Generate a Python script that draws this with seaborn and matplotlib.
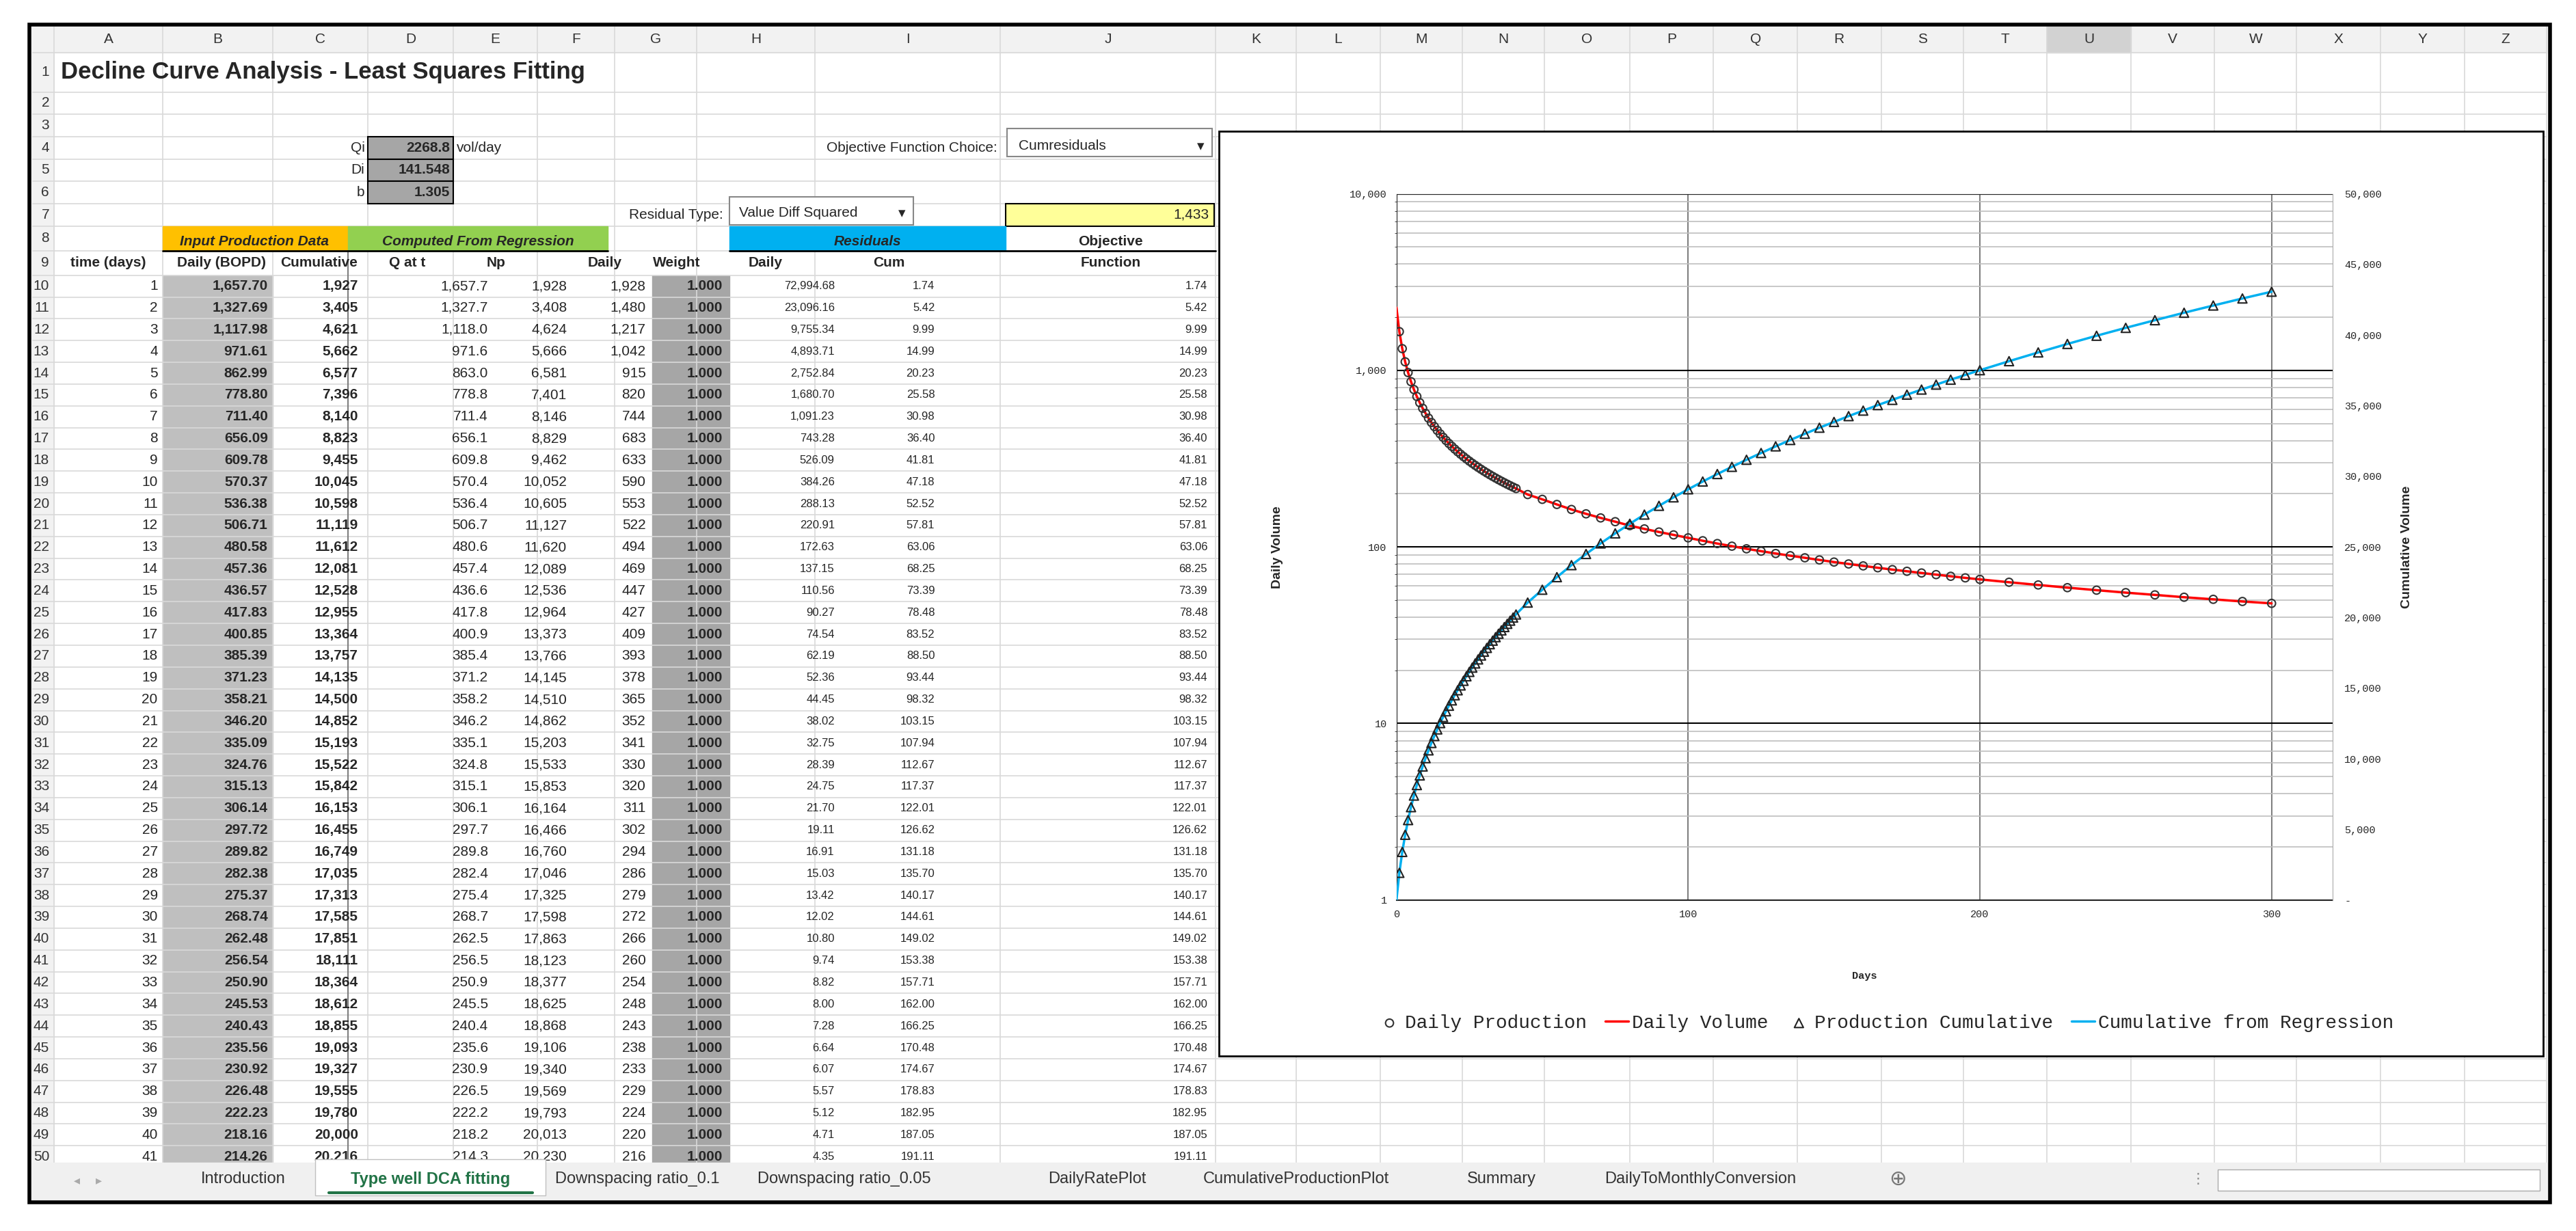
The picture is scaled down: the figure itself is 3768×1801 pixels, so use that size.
import numpy as np
import pandas as pd
import matplotlib
matplotlib.use("Agg")
import matplotlib.pyplot as plt
from matplotlib.patches import Rectangle
import seaborn as sns

sns.set_style("white")
plt.rcParams['font.family'] = ['Liberation Sans Narrow', 'Liberation Sans', 'DejaVu Sans']

# ---- table data (rows 10..50) ----
t_days = list(range(1, 42))
daily_bopd = [1657.70, 1327.69, 1117.98, 971.61, 862.99, 778.80, 711.40, 656.09, 609.78, 570.37,
              536.38, 506.71, 480.58, 457.36, 436.57, 417.83, 400.85, 385.39, 371.23, 358.21,
              346.20, 335.09, 324.76, 315.13, 306.14, 297.72, 289.82, 282.38, 275.37, 268.74,
              262.48, 256.54, 250.90, 245.53, 240.43, 235.56, 230.92, 226.48, 222.23, 218.16, 214.26]
cumulative = [1927, 3405, 4621, 5662, 6577, 7396, 8140, 8823, 9455, 10045, 10598, 11119, 11612,
              12081, 12528, 12955, 13364, 13757, 14135, 14500, 14852, 15193, 15522, 15842, 16153,
              16455, 16749, 17035, 17313, 17585, 17851, 18111, 18364, 18612, 18855, 19093, 19327,
              19555, 19780, 20000, 20216]
q_at_t = [1657.7, 1327.7, 1118.0, 971.6, 863.0, 778.8, 711.4, 656.1, 609.8, 570.4, 536.4, 506.7,
          480.6, 457.4, 436.6, 417.8, 400.9, 385.4, 371.2, 358.2, 346.2, 335.1, 324.8, 315.1,
          306.1, 297.7, 289.8, 282.4, 275.4, 268.7, 262.5, 256.5, 250.9, 245.5, 240.4, 235.6,
          230.9, 226.5, 222.2, 218.2, 214.3]
np_fit = [1928, 3408, 4624, 5666, 6581, 7401, 8146, 8829, 9462, 10052, 10605, 11127, 11620, 12089,
          12536, 12964, 13373, 13766, 14145, 14510, 14862, 15203, 15533, 15853, 16164, 16466,
          16760, 17046, 17325, 17598, 17863, 18123, 18377, 18625, 18868, 19106, 19340, 19569,
          19793, 20013, 20230]
daily_fit = [1928, 1480, 1217, 1042, 915, 820, 744, 683, 633, 590, 553, 522, 494, 469, 447, 427,
             409, 393, 378, 365, 352, 341, 330, 320, 311, 302, 294, 286, 279, 272, 266, 260, 254,
             248, 243, 238, 233, 229, 224, 220, 216]
resid_daily = [72994.68, 23096.16, 9755.34, 4893.71, 2752.84, 1680.70, 1091.23, 743.28, 526.09,
               384.26, 288.13, 220.91, 172.63, 137.15, 110.56, 90.27, 74.54, 62.19, 52.36, 44.45,
               38.02, 32.75, 28.39, 24.75, 21.70, 19.11, 16.91, 15.03, 13.42, 12.02, 10.80, 9.74,
               8.82, 8.00, 7.28, 6.64, 6.07, 5.57, 5.12, 4.71, 4.35]
resid_cum = [1.74, 5.42, 9.99, 14.99, 20.23, 25.58, 30.98, 36.40, 41.81, 47.18, 52.52, 57.81,
             63.06, 68.25, 73.39, 78.48, 83.52, 88.50, 93.44, 98.32, 103.15, 107.94, 112.67,
             117.37, 122.01, 126.62, 131.18, 135.70, 140.17, 144.61, 149.02, 153.38, 157.71,
             162.00, 166.25, 170.48, 174.67, 178.83, 182.95, 187.05, 191.11]

# ---- chart data beyond the table ----
late_days = [45, 50, 55, 60, 65, 70, 75, 80, 85, 90, 95, 100, 105, 110, 115, 120, 125, 130, 135,
             140, 145, 150, 155, 160, 165, 170, 175, 180, 185, 190, 195, 200, 210, 220, 230, 240,
             250, 260, 270, 280, 290, 300]
late_daily = [198, 186, 174, 163, 154, 146, 139, 132, 126.5, 121.5, 117, 112.6, 108.4, 104.5, 101,
              97.6, 94.6, 91.8, 89.2, 86.8, 84.4, 82.1, 80.1, 78.1, 76.2, 74.4, 72.8, 71.2, 69.7,
              68.2, 66.8, 65.5, 63.1, 60.9, 58.8, 56.9, 55.1, 53.5, 51.9, 50.5, 49.1, 47.9]
late_cum = [21060, 21970, 22860, 23710, 24500, 25250, 25960, 26640, 27290, 27910, 28510, 29080,
            29630, 30160, 30670, 31170, 31650, 32120, 32570, 33010, 33440, 33850, 34260, 34650,
            35040, 35410, 35780, 36140, 36490, 36840, 37180, 37510, 38150, 38770, 39370, 39950,
            40510, 41050, 41580, 42090, 42590, 43070]

fig = plt.figure(figsize=(37.68, 18.01), dpi=100)
bg = fig.add_axes([0, 0, 1, 1])
bg.set_xlim(0, 1568)
bg.set_ylim(749.5, 0)
bg.axis('off')

col_letters = list("ABCDEFGHIJKLMNOPQRSTUVWXYZ")
col_edges = [33, 99, 166, 224, 276, 327, 374, 424, 496, 609, 740, 789, 840, 890, 940, 992, 1043,
             1094, 1145, 1195, 1246, 1297, 1348, 1398, 1449, 1500, 1550]

row_top = {1: 32, 2: 56}
for r in range(3, 9):
    row_top[r] = row_top[r - 1] + 13.6
row_top[9] = row_top[8] + 15
row_top[10] = row_top[9] + 15
for r in range(11, 52):
    row_top[r] = row_top[r - 1] + 13.25


def rc(r):
    return (row_top[r] + row_top[r + 1]) / 2


FS = 15
# gridlines
for x in col_edges:
    bg.plot([x, x], [15, 708], color='#d9d9d9', lw=1.2, zorder=1)
for r in range(1, 52):
    bg.plot([20, 1550], [row_top[r], row_top[r]], color='#d9d9d9', lw=1.2, zorder=1)
# headers
bg.add_patch(Rectangle((18, 15), 1534, 17, color='#f2f2f2', zorder=0.5))
bg.add_patch(Rectangle((18, 15), 15, 693, color='#f2f2f2', zorder=0.5))
for i, L in enumerate(col_letters):
    bg.text((col_edges[i] + col_edges[i + 1]) / 2, 24, L, ha='center', va='center', fontsize=FS, color='#333333')
bg.add_patch(Rectangle((col_edges[20], 15), col_edges[21] - col_edges[20], 17, color='#d2d2d2', zorder=0.6))
for r in range(1, 51):
    bg.text(30, rc(r), str(r), ha='right', va='center', fontsize=FS, color='#333333')

bg.text(37, rc(1), 'Decline Curve Analysis - Least Squares Fitting', fontsize=25, weight='bold', va='center')

# parameters
for r, lab, val in [(4, 'Qi', '2268.8'), (5, 'Di', '141.548'), (6, 'b', '1.305')]:
    bg.add_patch(Rectangle((224, row_top[r]), 52, row_top[r + 1] - row_top[r], fc='#a6a6a6', ec='black', lw=1.5, zorder=2))
    bg.text(222, rc(r), lab, ha='right', va='center', fontsize=FS)
    bg.text(274, rc(r), val, ha='right', va='center', fontsize=FS, weight='bold', zorder=3)
bg.text(278, rc(4), 'vol/day', va='center', fontsize=FS)
bg.text(607, rc(4), 'Objective Function Choice:', ha='right', va='center', fontsize=FS)
bg.add_patch(Rectangle((613, row_top[4] - 5), 125, 17, fc='white', ec='#888888', lw=1.5, zorder=2))
bg.text(620, rc(4) - 1, 'Cumresiduals', va='center', fontsize=FS, zorder=3)
bg.text(731, rc(4) - 1, '▾', va='center', ha='center', fontsize=FS, zorder=3, family='DejaVu Sans')
bg.text(440, rc(7), 'Residual Type:', ha='right', va='center', fontsize=FS)
bg.add_patch(Rectangle((444, row_top[7] - 4), 112, 17, fc='white', ec='#888888', lw=1.5, zorder=2))
bg.text(450, rc(7) - 1, 'Value Diff Squared', va='center', fontsize=FS, zorder=3)
bg.text(549, rc(7) - 1, '▾', va='center', ha='center', fontsize=FS, zorder=3, family='DejaVu Sans')
bg.add_patch(Rectangle((612, row_top[7]), 127, row_top[8] - row_top[7], fc='#ffff99', ec='black', lw=1.5, zorder=2))
bg.text(736, rc(7), '1,433', ha='right', va='center', fontsize=FS, zorder=3)

# section headers
h8 = row_top[9] - row_top[8]
bg.add_patch(Rectangle((99, row_top[8]), 113, h8, color='#ffc000', zorder=2))
bg.add_patch(Rectangle((212, row_top[8]), 158, h8, color='#92d050', zorder=2))
bg.add_patch(Rectangle((444, row_top[8]), 168, h8, color='#00b0f0', zorder=2))
bg.plot([99, 370], [row_top[9], row_top[9]], color='black', lw=2, zorder=3)
bg.plot([444, 740], [row_top[9], row_top[9]], color='black', lw=2, zorder=3)
bg.text(155, rc(8) + 2, 'Input Production Data', ha='center', va='center', fontsize=FS, weight='bold', style='italic', zorder=3)
bg.text(291, rc(8) + 2, 'Computed From Regression', ha='center', va='center', fontsize=FS, weight='bold', style='italic', zorder=3)
bg.text(528, rc(8) + 2, 'Residuals', ha='center', va='center', fontsize=FS, weight='bold', style='italic', zorder=3)
bg.text(676, rc(8) + 2, 'Objective', ha='center', va='center', fontsize=FS, weight='bold')
heads = [('time (days)', 66), ('Daily (BOPD)', 135), ('Cumulative', 194), ('Q at t', 248), ('Np', 302),
         ('Daily', 368), ('Weight', 412), ('Daily', 466), ('Cum', 541), ('Function', 676)]
for h, x in heads:
    bg.text(x, rc(9), h, ha='center', va='center', fontsize=FS, weight='bold')

# gray columns
bot = 708
bg.add_patch(Rectangle((99, row_top[10]), 67, bot - row_top[10], color='#bfbfbf', zorder=0.8))
bg.add_patch(Rectangle((397, row_top[10]), 47, bot - row_top[10], color='#a6a6a6', zorder=0.8))
bg.plot([212, 212], [row_top[9], bot], color='#7f7f7f', lw=1.5, zorder=2)

rights = [96, 163, 218, 297, 345, 393, 440, 508, 569, 735]
for i, t in enumerate(t_days):
    r = 10 + i
    y = rc(r)
    vals = [(str(t), {}), (f"{daily_bopd[i]:,.2f}", {'weight': 'bold'}), (f"{cumulative[i]:,}", {'weight': 'bold'}),
            (f"{q_at_t[i]:,.1f}", {}), (f"{np_fit[i]:,}", {}), (f"{daily_fit[i]:,}", {}),
            ('1.000', {'weight': 'bold'}), (f"{resid_daily[i]:,.2f}", {'fontsize': 12}),
            (f"{resid_cum[i]:.2f}", {'fontsize': 12}), (f"{resid_cum[i]:.2f}", {'fontsize': 12})]
    for (txt, kw), x in zip(vals, rights):
        kw = dict(kw)
        fs = kw.pop('fontsize', FS)
        bg.text(x, y, txt, ha='right', va='center', fontsize=fs, zorder=3, **kw)

# tab bar
bg.add_patch(Rectangle((18, 708), 1534, 24, color='#f0f0f0', zorder=4))
bg.text(45, 719, '◂    ▸', ha='left', va='center', fontsize=13, color='#aaaaaa', zorder=5, family='DejaVu Sans')
bg.add_patch(Rectangle((192, 706), 140, 22, fc='white', ec='#c0c0c0', zorder=4.5))
tabs = [('Introduction', 148), ('Type well DCA fitting', 262), ('Downspacing ratio_0.1', 388),
        ('Downspacing ratio_0.05', 514), ('DailyRatePlot', 668), ('CumulativeProductionPlot', 789),
        ('Summary', 914), ('DailyToMonthlyConversion', 1035)]
for name, x in tabs:
    act = name.startswith('Type')
    bg.text(x, 718, name, ha='center', va='center', fontsize=17, zorder=5,
            color='#217346' if act else '#333333', weight='bold' if act else 'normal')
    if act:
        bg.plot([x - 62, x + 62], [726, 726], color='#217346', lw=3, zorder=5)
bg.text(1155, 718, '⊕', ha='center', va='center', fontsize=22, color='#777777', zorder=5, family='DejaVu Sans')
bg.add_patch(Rectangle((1350, 712), 196, 13, fc='white', ec='#aaaaaa', zorder=5))
bg.text(1338, 718, '⋮', ha='center', va='center', fontsize=15, color='#888888', zorder=5, family='DejaVu Sans')

# outer frame
bg.add_patch(Rectangle((18, 15), 1534, 717, fill=False, ec='black', lw=4, zorder=6))

# chart box
bg.add_patch(Rectangle((742, 80), 806, 563, fc='white', ec='black', lw=2, zorder=7))

# ---- chart ----
days_all = t_days + late_days
prod = pd.DataFrame({'days': days_all, 'daily': daily_bopd + late_daily, 'cum': cumulative + late_cum})
fit = pd.DataFrame({'days': [0] + days_all, 'daily': [2268.8] + q_at_t + late_daily,
                    'cum': [0] + np_fit + late_cum})

ax = fig.add_axes([850 / 1568, 1 - 548 / 749.5, 570 / 1568, 430 / 749.5], zorder=10)
ax.set_yscale('log')
ax.set_ylim(1, 10000)
ax.set_xlim(0, 321)
sns.lineplot(data=fit, x='days', y='daily', color='red', lw=2.5, ax=ax, label='Daily Volume', zorder=3)
sns.scatterplot(data=prod, x='days', y='daily', marker='o', s=70, facecolor='none', edgecolor='#333333',
                linewidth=1.5, ax=ax, label='Daily Production', zorder=4)
ax.yaxis.set_major_locator(matplotlib.ticker.LogLocator(base=10))
ax.yaxis.set_minor_locator(matplotlib.ticker.LogLocator(base=10, subs=range(2, 10)))
ax.yaxis.set_major_formatter(matplotlib.ticker.FuncFormatter(lambda v, p: f"{v:,.0f}"))
ax.yaxis.set_minor_formatter(matplotlib.ticker.NullFormatter())
ax.set_xticks([0, 100, 200, 300])
ax.grid(True, which='major', axis='y', color='black', lw=1.5)
ax.grid(True, which='minor', axis='y', color='#bfbfbf', lw=1.2)
ax.grid(True, which='major', axis='x', color='#808080', lw=1.5)
mono = ['Liberation Mono', 'DejaVu Sans Mono']
ax.tick_params(labelsize=11, length=0, pad=10)
for lb in ax.get_xticklabels() + ax.get_yticklabels():
    lb.set_family(mono)
ax.set_xlabel('Days', fontsize=11, family=mono, weight='bold', labelpad=55)
ax.set_ylabel('Daily Volume', fontsize=14, weight='bold', family=['Liberation Sans'], labelpad=70)
for sp in ax.spines.values():
    sp.set_visible(False)
ax.spines['bottom'].set_visible(True)
ax.spines['top'].set_visible(True)
ax.spines['left'].set_visible(True)
ax.spines['bottom'].set_linewidth(1.5)

ax2 = ax.twinx()
ax2.set_ylim(0, 50000)
sns.lineplot(data=fit, x='days', y='cum', color='#00b0f0', lw=2.5, ax=ax2, label='Cumulative from Regression', zorder=3)
sns.scatterplot(data=prod, x='days', y='cum', marker='^', s=90, facecolor='none', edgecolor='#222222',
                linewidth=1.5, ax=ax2, label='Production Cumulative', zorder=4)
ax2.set_yticks(range(0, 50001, 5000))
ax2.set_yticklabels(['-'] + [f"{v:,}" for v in range(5000, 50001, 5000)])
ax2.tick_params(labelsize=11, length=0, pad=12)
for lb in ax2.get_yticklabels():
    lb.set_family(mono)
ax2.set_ylabel('Cumulative Volume', fontsize=14, weight='bold', family=['Liberation Sans'], labelpad=20)
for sp in ax2.spines.values():
    sp.set_visible(False)
ax2.spines['right'].set_visible(True)
ax2.spines['right'].set_color('#aaaaaa')

h1, l1 = ax.get_legend_handles_labels()
h2, l2 = ax2.get_legend_handles_labels()
if ax.get_legend():
    ax.get_legend().remove()
if ax2.get_legend():
    ax2.get_legend().remove()
order = {'Daily Production': 0, 'Daily Volume': 1, 'Production Cumulative': 2, 'Cumulative from Regression': 3}
pairs = sorted(zip(h1 + h2, l1 + l2), key=lambda p: order[p[1]])
fig.legend([p[0] for p in pairs], [p[1] for p in pairs], loc='center', bbox_to_anchor=(1148 / 1568, 1 - 623 / 749.5),
           ncol=4, frameon=False, prop={'family': mono, 'size': 20}, handlelength=1.2, handletextpad=0.2,
           columnspacing=1.0)

fig.savefig('out.png', dpi=100)
